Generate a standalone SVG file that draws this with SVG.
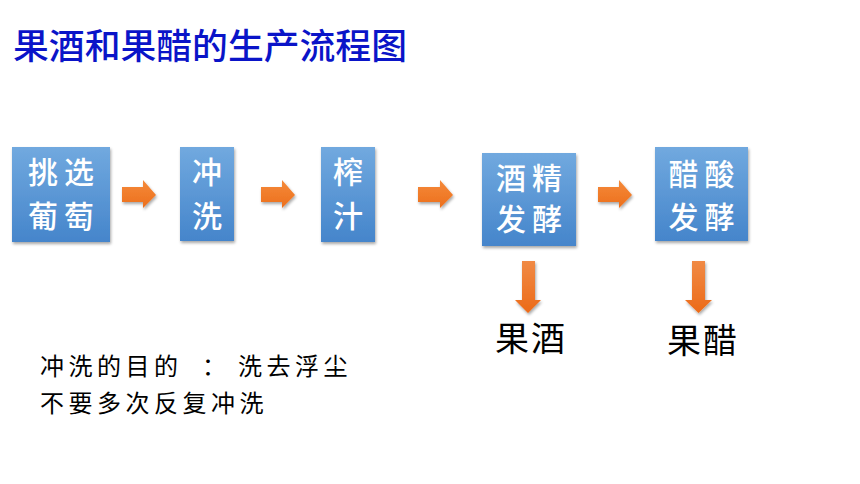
<svg xmlns="http://www.w3.org/2000/svg" width="860" height="484" viewBox="0 0 860 484">
<defs>
<linearGradient id="boxg" x1="0" y1="0" x2="0" y2="1">
<stop offset="0" stop-color="#71a9df"/>
<stop offset="1" stop-color="#4585cb"/>
</linearGradient>
<linearGradient id="arrg" x1="0" y1="0" x2="0" y2="1">
<stop offset="0" stop-color="#f58a3a"/>
<stop offset="1" stop-color="#ec6f1c"/>
</linearGradient>
<linearGradient id="arrv" x1="0" y1="0" x2="0" y2="1">
<stop offset="0" stop-color="#f08a45"/>
<stop offset="1" stop-color="#ec6a18"/>
</linearGradient>
<filter id="sh" x="-10%" y="-10%" width="130%" height="130%">
<feGaussianBlur in="SourceAlpha" stdDeviation="1.5"/>
<feOffset dx="1" dy="2" result="b"/>
<feComponentTransfer><feFuncA type="linear" slope="0.35"/></feComponentTransfer>
<feMerge><feMergeNode/><feMergeNode in="SourceGraphic"/></feMerge>
</filter>
</defs>
<style>
.box{fill:url(#boxg);filter:url(#sh);}
.bt{font-family:"Noto Sans CJK SC","Noto Sans CJK TC",sans-serif;font-size:30px;font-weight:500;fill:#ffffff;text-anchor:middle;letter-spacing:6px;}
.bt1{font-family:"Noto Sans CJK SC","Noto Sans CJK TC",sans-serif;font-size:30px;font-weight:500;fill:#ffffff;text-anchor:middle;}
.arr{fill:url(#arrg);filter:url(#sh);}
.varr{fill:url(#arrv);filter:url(#sh);}
.out{font-family:"Noto Sans CJK SC",sans-serif;font-size:34px;fill:#000000;text-anchor:middle;letter-spacing:2px;}
.note{font-family:"Noto Sans CJK SC",sans-serif;font-size:24px;fill:#000000;letter-spacing:4.5px;}
.title{font-family:"Noto Sans CJK SC",sans-serif;font-size:35px;fill:#0a14c8;font-weight:500;}
</style>
<rect width="860" height="484" fill="#ffffff"/>
<text class="title" x="13" y="59" textLength="394" lengthAdjust="spacingAndGlyphs">果酒和果醋的生产流程图</text>
<g id="connectors">
<polygon class="arr" points="122,187 143,187 143,180 156,195 143,208 143,202 122,202"/>
<polygon class="arr" points="261,187 282,187 282,180 295,195 282,208 282,202 261,202"/>
<polygon class="arr" points="418,187 440,187 440,180 453,195 440,208 440,202 418,202"/>
<polygon class="arr" points="598,187 619,187 619,180 632,195 619,208 619,202 598,202"/>
<polygon class="varr" points="522,261 535,261 535,300 541,300 528,313 515,300 522,300"/>
<polygon class="varr" points="692,261 705,261 705,300 712,300 698.5,313 685,300 692,300"/>
</g>
<g id="n1"><rect class="box" x="12" y="147" width="98" height="95"/>
<text class="bt" x="64" y="183">挑选</text><text class="bt" x="64" y="227">葡萄</text></g>
<g id="n2"><rect class="box" x="180" y="147" width="54" height="94"/>
<text class="bt1" x="207" y="183">冲</text><text class="bt1" x="207" y="227">洗</text></g>
<g id="n3"><rect class="box" x="321" y="147" width="54" height="95"/>
<text class="bt1" x="348" y="183">榨</text><text class="bt1" x="348" y="227">汁</text></g>
<g id="n4"><rect class="box" x="482" y="153" width="94" height="93"/>
<text class="bt" x="532" y="189">酒精</text><text class="bt" x="532" y="230">发酵</text></g>
<g id="n5"><rect class="box" x="655" y="147" width="93" height="94"/>
<text class="bt" x="704.5" y="185">醋酸</text><text class="bt" x="704.5" y="228">发酵</text></g>
<g id="out1"><text class="out" x="531" y="351">果酒</text></g>
<g id="out2"><text class="out" x="703" y="353">果醋</text></g>
<g id="notes">
<text class="note" x="40" y="375">冲洗的目的</text>
<text class="note" x="202" y="375">：</text>
<text class="note" x="238" y="375">洗去浮尘</text>
<text class="note" x="40" y="412">不要多次反复冲洗</text>
</g>
</svg>
